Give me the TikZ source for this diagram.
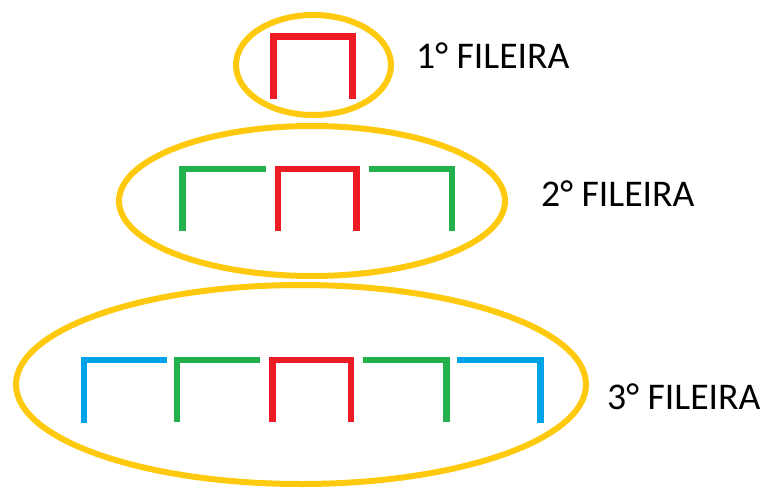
\documentclass[tikz,border=0pt]{standalone}
\usepackage{fontspec}
\setmainfont{Carlito}
\definecolor{cred}{HTML}{ED1C24}
\definecolor{cgreen}{HTML}{22B14C}
\definecolor{cblue}{HTML}{00A2E8}
\definecolor{cgold}{HTML}{FFC90E}
\begin{document}
\begin{tikzpicture}[x=1pt,y=-1pt,
  ring/.style={draw=cgold,line width=6pt},
  bar/.style={line width=6.8pt,line join=miter,line cap=butt},
  lbl/.style={anchor=base west,inner sep=0pt,font=\fontsize{37.7}{42}\selectfont,text=black}]
\useasboundingbox (0,0) rectangle (766,490);
% ellipses
\draw[ring] (313.5,65) ellipse [x radius=77.5,y radius=50];
\draw[ring] (312,201) ellipse [x radius=193,y radius=75];
\draw[ring] (301,384.5) ellipse [x radius=285,y radius=99.5];
% row 1
\draw[bar,cred] (273.5,99) -- (273.5,36.5) -- (352.5,36.5) -- (352.5,99);
% row 2
\draw[bar,cgreen] (182.5,231) -- (182.5,169) -- (265.7,169);
\draw[bar,cred] (278,231) -- (278,169) -- (356.3,169) -- (356.3,231);
\draw[bar,cgreen] (368.7,169) -- (452,169) -- (452,231);
% row 3
\draw[bar,cblue] (84,423) -- (84,360) -- (166.7,360);
\draw[bar,cgreen] (177,422) -- (177,360) -- (260,360);
\draw[bar,cred] (272.3,422) -- (272.3,360) -- (351,360) -- (351,422);
\draw[bar,cgreen] (362.7,360) -- (446.3,360) -- (446.3,422);
\draw[bar,cblue] (457.3,360) -- (540.3,360) -- (540.3,423);
% labels
\node[lbl] (t1) at (416,68) {1° FILEIRA};
\node[lbl] (t2) at (541,206) {2° FILEIRA};
\node[lbl] (t3) at (607,409) {3° FILEIRA};
\end{tikzpicture}
\end{document}
